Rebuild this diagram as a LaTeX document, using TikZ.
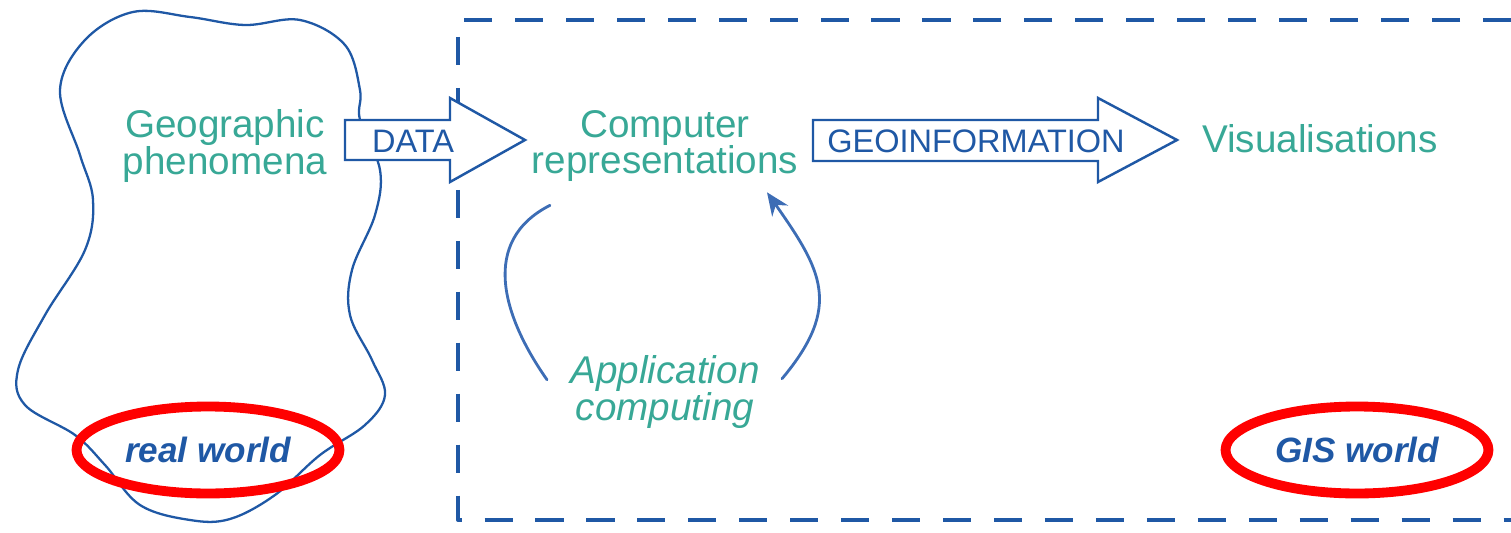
\documentclass[tikz,border=0pt]{standalone}
\usepackage{fontspec}
\setmainfont{Liberation Sans}
\usetikzlibrary{arrows.meta,calc,positioning,shapes.geometric}
\definecolor{geoteal}{RGB}{56,168,150}
\definecolor{geoblue}{RGB}{31,88,165}
\definecolor{cycblue}{RGB}{61,109,181}
\tikzset{
  lbl/.style={text=geoteal, align=center, inner sep=0pt, font=\fontsize{22}{21}\selectfont},
  flowtxt/.style={text=geoblue, inner sep=0pt, font=\fontsize{18.5}{20}\selectfont},
  ring/.style={ellipse, draw=red, line width=5.6pt, minimum width=5.26cm, minimum height=1.74cm,
    inner sep=0pt, text=geoblue, font=\fontsize{20}{22}\selectfont\bfseries\itshape},
  fatarrow/.style={draw=geoblue, fill=white, line width=1.4pt, line join=miter},
  cyc/.style={draw=cycblue, line width=1.6pt},
  every picture/.style={line cap=round, line join=round}
}
\begin{document}
\begin{tikzpicture}[x=0.02cm, y=0.02cm]
  \useasboundingbox (0,0) rectangle (1511,532);

  % real world outline
  \draw[geoblue, line width=1.3pt] plot[smooth cycle, tension=0.6] coordinates {
    (60,442) (85,492) (133,520) (190,515) (245,507) (300,512) (345,487) (360,442)
    (360,412) (380,362) (375,317) (352,262) (350,217) (372,172) (385,137) (365,107)
    (320,77) (275,37) (230,13) (190,12) (140,27) (105,67) (75,97) (25,127)
    (18,162) (45,217) (85,282) (93,332) (80,377)};

  % GIS world frame
  \draw[geoblue, line width=2.2pt, line cap=butt, dash pattern=on 16pt off 13pt]
    (1511,512) -- (458,512) -- (458,12) -- (1511,12);

  % fat arrows
  \draw[fatarrow] (345,412) -- (450,412) -- (450,434) -- (525,392) -- (450,350)
    -- (450,372) -- (345,372) -- cycle;
  \draw[fatarrow] (813,412) -- (1098,412) -- (1098,434) -- (1177,392) -- (1098,350)
    -- (1098,371) -- (813,371) -- cycle;

  % texts
  \node[lbl] (geo) at (225,386) {Geographic\\phenomena};
  \node[lbl] (rep) at (665,386) {Computer\\representations};
  \node[lbl] (vis) at (1320,393) {Visualisations};
  \node[lbl, font=\fontsize{22}{20}\selectfont\itshape] (app) at (665,140) {Application\\computing};
  \node[flowtxt] (data) at (413,391) {DATA};
  \node[flowtxt] (geoinfo) at (976,391) {GEOINFORMATION};

  % worlds
  \node[ring] (real) at (208,82) {real world};
  \node[ring] (gis) at (1357,82) {GIS world};

  % application cycle
  \draw[cyc] ($(rep.south)+(-115,-23)$) to[out=207, in=125, looseness=1.15] ($(app.north)+(-118,-25)$);
  \draw[cyc, -{Stealth[length=13pt, width=11pt]}] ($(app.north)+(117,-24)$)
    to[out=50, in=-55, looseness=1.3] ($(rep.south)+(102,-10)$);
\end{tikzpicture}
\end{document}
